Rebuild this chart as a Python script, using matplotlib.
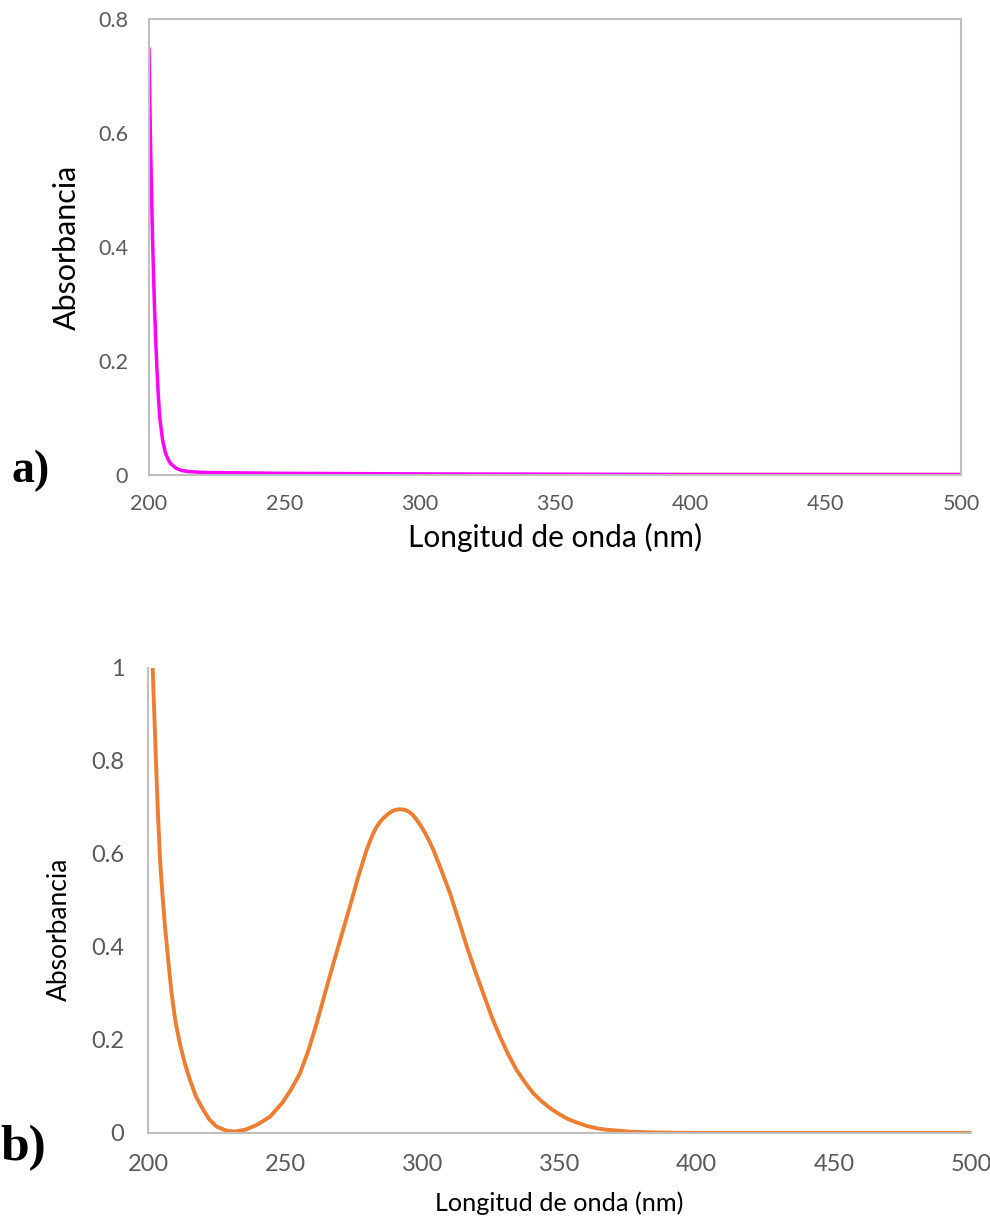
import matplotlib
matplotlib.use("Agg")
import matplotlib.pyplot as plt

# Espectro a): absorbancia frente a longitud de onda
wl_a = [200.0, 200.5, 201.0, 201.5, 202.0, 202.5, 203.0, 203.5, 204.0, 205.0,
        206.0, 207.0, 208.0, 210.0, 212.0, 215.0, 220.0, 250.0, 300.0, 350.0,
        400.0, 450.0, 500.0]
abs_a = [0.75, 0.60, 0.48, 0.38, 0.30, 0.235, 0.18, 0.135, 0.10, 0.062,
         0.040, 0.028, 0.020, 0.012, 0.008, 0.006, 0.0045, 0.003, 0.002, 0.0015,
         0.001, 0.001, 0.001]

# Espectro b)
wl_b = [201.7, 202.3, 202.9, 203.6, 204.4, 205.3, 206.2, 207.4, 208.6, 210.0,
        211.7, 213.5, 215.3, 217.5, 220.2, 222.5, 225.0, 228.5, 231.7, 235.5,
        239.6, 244.5, 249.0, 252.0, 255.4, 258.5, 261.5, 264.5, 267.6, 270.6,
        273.6, 276.6, 279.7, 281.5, 283.0, 284.5, 285.8, 287.5, 289.0, 290.5,
        291.9, 293.5, 295.0, 296.5, 298.0, 299.5, 301.0, 302.5, 304.0, 307.0,
        310.1, 313.2, 316.2, 319.2, 322.2, 325.2, 328.3, 331.3, 334.4, 337.5,
        340.5, 343.5, 346.6, 350.0, 353.0, 356.5, 360.0, 363.5, 367.0, 371.0,
        375.0, 380.0, 385.0, 392.0, 400.0, 450.0, 500.0]
abs_b = [1.0, 0.90, 0.80, 0.69, 0.587, 0.51, 0.444, 0.37, 0.30, 0.24,
         0.19, 0.148, 0.114, 0.078, 0.049, 0.028, 0.0136, 0.005, 0.003, 0.007,
         0.017, 0.035, 0.065, 0.092, 0.128, 0.178, 0.236, 0.300, 0.365, 0.426,
         0.487, 0.550, 0.609, 0.636, 0.655, 0.668, 0.677, 0.686, 0.692, 0.695,
         0.696, 0.695, 0.691, 0.684, 0.673, 0.660, 0.645, 0.628, 0.609, 0.564,
         0.515, 0.458, 0.401, 0.349, 0.300, 0.251, 0.207, 0.169, 0.135, 0.108,
         0.085, 0.068, 0.053, 0.040, 0.030, 0.022, 0.015, 0.010, 0.007, 0.005,
         0.003, 0.0018, 0.001, 0.0005, 0.0, 0.0, 0.0]

xticks = [200, 250, 300, 350, 400, 450, 500]
yticks_a = [0, 0.2, 0.4, 0.6, 0.8]
yticks_b = [0, 0.2, 0.4, 0.6, 0.8, 1]

plt.rcParams["font.family"] = ["Lato", "DejaVu Sans"]
GRIS = "#595959"
BORDE = "#BFBFBF"

fig = plt.figure(figsize=(9.9, 12.19), dpi=100)

ax1 = fig.add_axes([0.1505, 0.6103, 0.8202, 0.3741])
ax1.plot(wl_a, abs_a, color="#FF00FF", lw=2.5, solid_capstyle="butt")
ax1.set_xlim(200, 500)
ax1.set_ylim(0, 0.8)
ax1.set_xticks(xticks)
ax1.set_xticklabels([str(t) for t in xticks])
ax1.set_yticks(yticks_a)
ax1.set_yticklabels(["0", "0.2", "0.4", "0.6", "0.8"])
for s in ax1.spines.values():
    s.set_color(BORDE)
    s.set_linewidth(1.5)
ax1.tick_params(length=0, labelsize=15.5, labelcolor=GRIS)
ax1.tick_params(axis="x", pad=14)
ax1.tick_params(axis="y", pad=15)
ax1.set_xlabel("Longitud de onda (nm)", fontsize=21.5, color="black", labelpad=6)
ax1.set_ylabel("Absorbancia", fontsize=22, color="black", labelpad=12)

ax2 = fig.add_axes([0.1495, 0.0706, 0.8313, 0.3815])
ax2.plot(wl_b, abs_b, color="#ED7D31", lw=2.8, solid_capstyle="butt")
ax2.set_xlim(200, 500)
ax2.set_ylim(0, 1)
ax2.set_xticks(xticks)
ax2.set_xticklabels([str(t) for t in xticks])
ax2.set_yticks(yticks_b)
ax2.set_yticklabels(["0", "0.2", "0.4", "0.6", "0.8", "1"])
ax2.spines["top"].set_visible(False)
ax2.spines["right"].set_visible(False)
for k in ("left", "bottom"):
    ax2.spines[k].set_color(BORDE)
    ax2.spines[k].set_linewidth(1.5)
ax2.tick_params(length=0, labelsize=17, labelcolor=GRIS)
ax2.tick_params(axis="x", pad=15)
ax2.tick_params(axis="y", pad=17)
ax2.set_xlabel("Longitud de onda (nm)", fontsize=18.2, color="black", labelpad=12)
ax2.set_ylabel("Absorbancia", fontsize=19, color="black")
ax2.yaxis.set_label_coords(-0.093, 0.437)

fig.text(0.012, 1 - 482 / 1219, "a)", family="Liberation Serif",
         fontweight="bold", fontsize=33, ha="left", va="baseline")
fig.text(0.0, 1 - 1160 / 1219, "b)", family="Liberation Serif",
         fontweight="bold", fontsize=37, ha="left", va="baseline")

fig.savefig("out.png", dpi=100)
